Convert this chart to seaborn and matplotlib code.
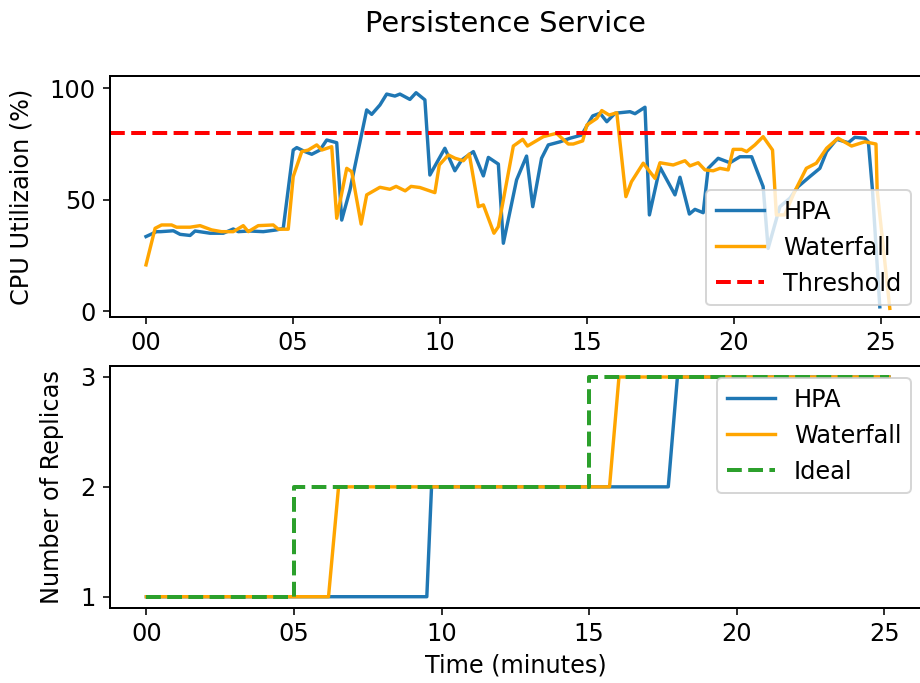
import matplotlib
matplotlib.use("Agg")
import matplotlib.pyplot as plt
from matplotlib.ticker import FuncFormatter, MultipleLocator
import seaborn as sns

# CPU utilisation samples (time in minutes, utilisation in %)
hpa_cpu_t = [0, 0.36, 0.5, 0.93, 1.16, 1.5, 1.67, 2.18, 2.63, 2.97, 3.14, 3.51, 3.99, 4.45,
             4.67, 5.01, 5.13, 5.41, 5.64, 5.92, 6.15, 6.49, 6.66, 6.94, 7.51, 7.68, 7.96,
             8.19, 8.47, 8.64, 8.98, 9.19, 9.49, 9.66, 10.17, 10.51, 10.74, 11.14, 11.48,
             11.65, 11.99, 12.16, 12.61, 12.95, 13.16, 13.46, 13.69, 14.09, 14.43, 14.82,
             15.2, 15.45, 15.68, 15.96, 16.47, 16.64, 16.98, 17.13, 17.49, 18.0, 18.17,
             18.49, 18.68, 18.96, 19.13, 19.47, 19.87, 20.21, 20.61, 20.78, 21.0, 21.17,
             21.57, 21.91, 22.19, 22.59, 22.93, 23.16, 23.5, 23.9, 24.12, 24.46, 24.58,
             24.72, 24.97]
hpa_cpu = [33.5, 35.7, 35.7, 36.1, 34.5, 34, 36, 35, 35, 36.9, 35.7, 36, 35.7, 36.5,
           37.2, 72.3, 73.4, 71.6, 70.4, 72.3, 76.8, 75.6, 40.9, 54.4, 90.3, 88.3, 92.5,
           97.4, 96.5, 97.4, 95, 98, 94.8, 61.1, 73.1, 63, 67.8, 71.6, 60.7,
           69, 66, 30.5, 58.9, 69.6, 46.9, 68.6, 74.6, 76, 77.6, 79,
           87.6, 88.8, 85, 88.8, 89.5, 88.6, 91.5, 43.2, 64.6, 52.2, 60.1,
           43.6, 45.7, 44.2, 64.1, 68.6, 66.6, 69.3, 69.3, 63.4, 55.9, 28.2,
           46.9, 50.7, 55.9, 60.4, 64.1, 71.6, 77.1, 75.6, 78, 77.6, 76,
           54.4, 2]

wf_cpu_t = [0, 0.31, 0.53, 0.87, 1.04, 1.5, 1.84, 2.23, 2.57, 2.97, 3.31, 3.48, 3.82, 4.33,
            4.5, 4.84, 5.01, 5.3, 5.52, 5.81, 5.98, 6.32, 6.49, 6.83, 7.0, 7.32, 7.51, 7.96,
            8.3, 8.51, 8.82, 9.02, 9.32, 9.83, 9.98, 10.29, 10.52, 10.8, 11.0, 11.31, 11.48,
            11.84, 11.99, 12.5, 12.82, 12.98, 13.52, 13.97, 14.37, 14.54, 14.86, 15.0,
            15.34, 15.51, 15.76, 16.02, 16.33, 16.52, 16.92, 17.32, 17.49, 17.94, 18.34,
            18.51, 18.79, 19.02, 19.3, 19.53, 19.81, 19.98, 20.27, 20.44, 20.72, 21.0,
            21.32, 21.45, 21.73, 22.07, 22.47, 22.81, 23.16, 23.55, 24.01, 24.46, 24.84,
            24.88, 25.31]
wf_cpu = [20.8, 37.2, 38.7, 38.7, 37.7, 37.7, 38.4, 36.5, 35.7, 35.7, 38.4, 35.7, 38.4, 38.7,
          36.8, 36.8, 60.4, 71.6, 72.3, 74.6, 72.3, 73.8, 41.7, 64.1, 62.6, 39.1, 52.2, 55.6,
          54.7, 56, 54, 56, 55.5, 53.2, 65.6, 70.1, 68.6, 67.5, 70.5, 46.9, 47.7,
          35, 37.9, 74.1, 77.1, 74.1, 78.3, 79.8, 75, 75, 76.4, 83.5,
          86.5, 90, 88, 89, 51.4, 58.1, 66.4, 59.6, 66.6, 65.6, 67.5,
          65.2, 66.6, 63.4, 63, 64.1, 63.4, 72.6, 72.6, 71.6, 74.6, 78.3,
          72.3, 43.2, 43.2, 53.6, 64.1, 66.4, 73.1, 77.6, 74.1, 76, 75,
          54.4, 1.3]

THRESHOLD = 80

# Replica counts over time
hpa_rep_t = [0, 9.50, 9.66, 17.68, 17.99, 25.16]
hpa_rep = [1, 1, 2, 2, 3, 3]
wf_rep_t = [0, 6.17, 6.51, 15.69, 16.01, 25.16]
wf_rep = [1, 1, 2, 2, 3, 3]
ideal_rep_t = [0, 5.0, 5.0, 15.0, 15.0, 25.16]
ideal_rep = [1, 1, 2, 2, 3, 3]

BLUE = "#1f77b4"
ORANGE = "orange"
GREEN = "#2ca02c"

plt.rcParams["font.family"] = ["DejaVu Sans"]
plt.rcParams["font.size"] = 12

W, H = 920, 683
fig = plt.figure(figsize=(W / 144, H / 144), dpi=144)

left_px, right_px = 109.5, 923
ax1 = fig.add_axes([left_px / W, 1 - 317.3 / H, (right_px - left_px) / W, (317.3 - 76) / H])
ax2 = fig.add_axes([left_px / W, 1 - 607.7 / H, (right_px - left_px) / W, (607.7 - 366) / H])

for ax in (ax1, ax2):
    ax.set_facecolor("white")
    ax.grid(False)

LW = 1.7

# Top panel: CPU utilisation
sns.lineplot(x=hpa_cpu_t, y=hpa_cpu, ax=ax1, color=BLUE, lw=LW, label="HPA",
             estimator=None, sort=False)
sns.lineplot(x=wf_cpu_t, y=wf_cpu, ax=ax1, color=ORANGE, lw=LW, label="Waterfall",
             estimator=None, sort=False)
ax1.axhline(THRESHOLD, color="red", ls="--", lw=2, label="Threshold")
ax1.set_xlim(-1.242, 26.44)
ax1.set_ylim(-2.7, 105.5)
ax1.set_yticks([0, 50, 100])
ax1.set_ylabel("CPU Utilizaion (%)")
ax1.yaxis.set_label_coords((34 - left_px) / (right_px - left_px), 0.5)
ax1.legend(loc="lower right")

# Bottom panel: replicas
sns.lineplot(x=hpa_rep_t, y=hpa_rep, ax=ax2, color=BLUE, lw=LW, label="HPA",
             estimator=None, sort=False)
sns.lineplot(x=wf_rep_t, y=wf_rep, ax=ax2, color=ORANGE, lw=LW, label="Waterfall",
             estimator=None, sort=False)
sns.lineplot(x=ideal_rep_t, y=ideal_rep, ax=ax2, color=GREEN, lw=2, ls="--", label="Ideal",
             estimator=None, sort=False)
ax2.set_xlim(-1.25, 26.31)
ax2.set_ylim(0.9, 3.1)
ax2.set_yticks([1, 2, 3])
ax2.set_ylabel("Number of Replicas")
ax2.yaxis.set_label_coords((64 - left_px) / (right_px - left_px), 0.5)
ax2.set_xlabel("Time (minutes)")
ax2.legend(loc="upper right")

fmt = FuncFormatter(lambda v, pos: f"{int(round(v)):02d}")
for ax in (ax1, ax2):
    ax.xaxis.set_major_locator(MultipleLocator(5))
    ax.xaxis.set_major_formatter(fmt)
    for s in ax.spines.values():
        s.set_color("black")
        s.set_linewidth(1.0)
    ax.tick_params(colors="black", length=3.5, width=0.8)

fig.suptitle("Persistence Service", x=505 / W, y=1 - 31.7 / H, va="baseline",
             fontsize="large")

fig.savefig("out.png", dpi=144, facecolor="white")
